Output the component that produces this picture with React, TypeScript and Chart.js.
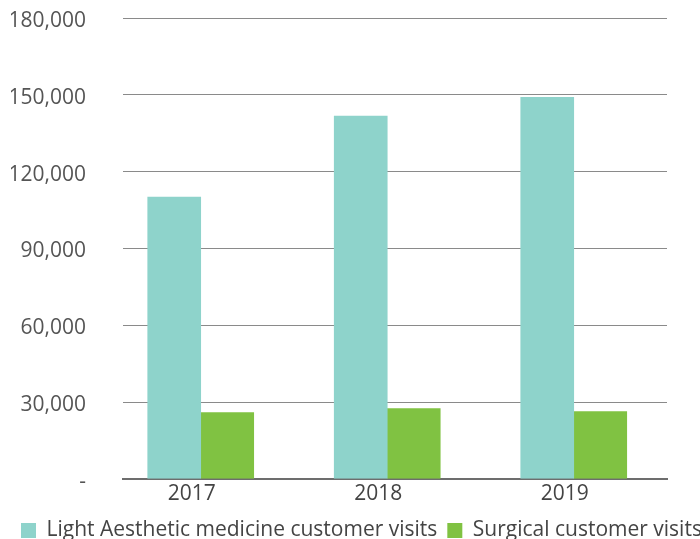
import React, { useEffect, useRef } from "react";
import { Chart, registerables } from "chart.js";

Chart.register(...registerables);

const categories = ["2017", "2018", "2019"];
const lightAesthetic = [110000, 141700, 149000];
const surgical = [25900, 27450, 26300];
const yTicks = [0, 30000, 60000, 90000, 120000, 150000, 180000];
const seriesNames = ["Light Aesthetic medicine customer visits", "Surgical customer visits"];

const W = 760;
const H = 539;

export default function App() {
  const ref = useRef<HTMLCanvasElement | null>(null);
  useEffect(() => {
    if (!ref.current) return;
    const font = { family: "'Open Sans', sans-serif", size: 21 };
    const chart = new Chart(ref.current, {
      type: "bar",
      data: {
        datasets: [
          {
            label: seriesNames[0],
            data: lightAesthetic.map((v, i) => ({ x: i, y: v })),
            backgroundColor: "#8ed3cb",
            barThickness: 53,
          },
          {
            label: seriesNames[1],
            data: surgical.map((v, i) => ({ x: i, y: v })),
            backgroundColor: "#80c242",
            barThickness: 53,
          },
        ],
      },
      options: {
        animation: false,
        responsive: false,
        layout: { padding: { left: 11, right: 0, top: 18, bottom: -12 } },
        plugins: {
          tooltip: { enabled: false },
          legend: {
            position: "bottom",
            align: "start",
            labels: {
              boxWidth: 15,
              boxHeight: 15,
              padding: 10,
              color: "#444",
              font,
            },
          },
        },
        scales: {
          x: {
            type: "linear",
            offset: false,
            min: -0.4167,
            max: 2.5,
            afterBuildTicks: (s: any) => {
              s.ticks = categories.map((_, i) => ({ value: i }));
            },
            ticks: {
              color: "#444",
              font,
              padding: 3,
              labelOffset: -9,
              maxRotation: 0,
              autoSkip: false,
              callback: (v: any) => categories[Math.round(Number(v))] ?? "",
            },
            grid: { display: false, drawTicks: false },
            border: { display: true, color: "#6d6d6d", width: 2 },
          },
          y: {
            type: "linear",
            min: 0,
            max: 180000,
            afterBuildTicks: (s: any) => {
              s.ticks = yTicks.map((v) => ({ value: v }));
            },
            afterFit: (s: any) => {
              s.width = 112;
            },
            ticks: {
              color: "#555",
              font,
              padding: 0,
              labelOffset: 3,
              callback: (v: any) => (Number(v) === 0 ? "-" : Number(v).toLocaleString("en-US")),
            },
            grid: {
              color: "#8a8a8a",
              lineWidth: 1,
              drawTicks: true,
              tickLength: 37,
              tickColor: "rgba(0,0,0,0)",
            },
            border: { display: false },
          },
          y2: {
            type: "linear",
            position: "right",
            display: true,
            afterFit: (s: any) => {
              s.width = W - 667;
            },
            ticks: { display: false },
            grid: { display: false, drawTicks: false },
            border: { display: false },
          },
        },
      },
    });
    return () => chart.destroy();
  }, []);
  return (
    <div style={{ position: "fixed", left: 0, top: 0, width: 700, height: 539, overflow: "hidden", background: "#fff" }}>
      <canvas ref={ref} width={W} height={H} style={{ width: W, height: H, display: "block" }} />
    </div>
  );
}
